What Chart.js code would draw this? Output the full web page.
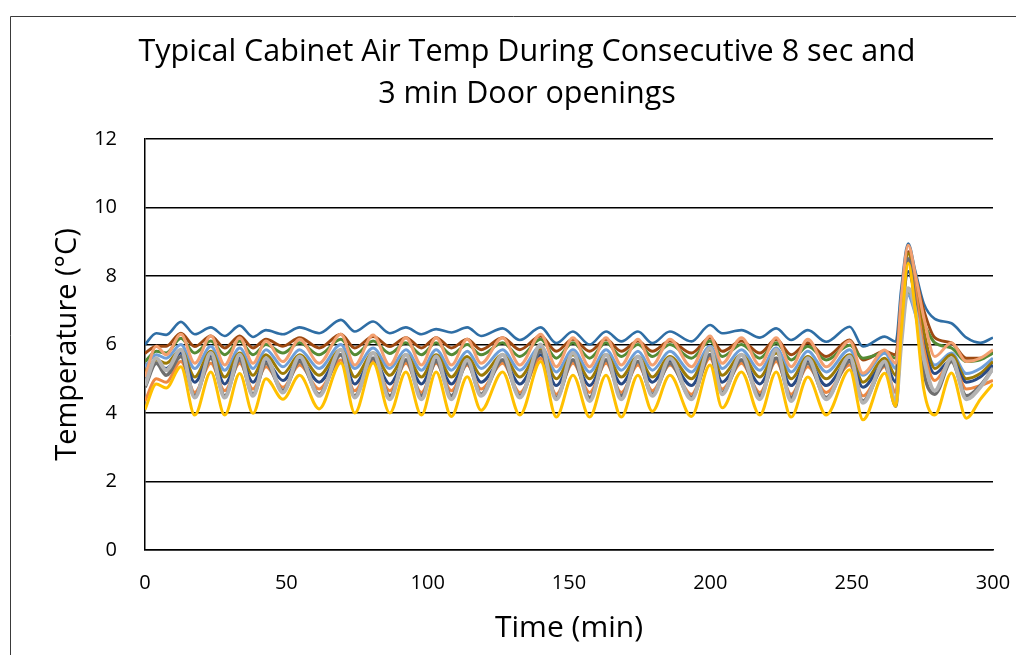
<!DOCTYPE html>
<html lang="en">
<head>
	<meta charset="UTF-8">
	<title>Typical Cabinet Air Temp</title>
	<script src="https://cdn.jsdelivr.net/npm/chart.js"></script>
	<style>
		html,body{margin:0;padding:0;background:#fff;}
		.box{width:1016px;height:655px;}
	</style>
</head>
<body>
	<div class="box">
		<canvas id="myChart" width="1016" height="655"></canvas>
	</div>
<script>
// time of each reading (min): troughs / peaks of the door cycles, then the 3 min opening
var times = [0,4,7.5,12.7,17.6,23.3,28.2,33.5,38.2,42.8,
	48.8,54.7,61.6,69.3,74.2,80.7,86.6,92.3,97.8,103,
	108.4,114,118.9,126.5,132.6,140,145.5,151.4,157.3,163.1,
	168.5,174.4,179.5,185.7,193.3,199.9,204.2,211,217.5,223.3,
	228.6,234.5,241,249.3,254,261.7,265.6,267.5,270,272.5,
	275.5,279.4,285.3,290.6,295.5,300];

// air temps (°C) per sensor
var blue = [6.0,6.33,6.28,6.66,6.3,6.5,6.25,6.55,6.22,6.42,
	6.3,6.5,6.33,6.72,6.38,6.67,6.33,6.5,6.3,6.45,
	6.35,6.5,6.25,6.47,6.13,6.5,6.04,6.38,6.0,6.38,
	6.09,6.38,6.04,6.38,6.09,6.57,6.33,6.42,6.2,6.47,
	6.13,6.42,6.08,6.52,5.94,6.23,6.08,7.6,8.95,8.15,
	7.2,6.75,6.62,6.2,6.05,6.2];
var brown = [5.74,5.95,5.95,6.33,5.94,6.25,5.9,6.25,5.9,6.15,
	5.95,6.2,5.9,6.3,5.9,6.23,5.94,6.2,5.9,6.2,
	5.9,6.15,5.85,6.2,5.85,6.25,5.8,6.15,5.8,6.15,
	5.8,6.1,5.8,6.1,5.75,6.2,5.8,6.1,5.75,6.15,
	5.7,6.05,5.65,6.13,5.55,5.8,5.7,7.2,8.71,8.0,
	7.0,6.2,6.05,5.6,5.6,5.8];
var green = [5.5,5.8,5.75,6.18,5.75,6.1,5.7,6.1,5.7,6.0,
	5.75,6.05,5.7,6.15,5.7,6.1,5.74,6.05,5.7,6.05,
	5.7,6.0,5.7,6.05,5.65,6.15,5.6,6.05,5.6,6.05,
	5.65,6.0,5.65,6.0,5.6,6.1,5.65,6.0,5.6,6.05,
	5.55,5.95,5.55,5.98,5.6,5.75,5.6,6.6,7.5,7.0,
	6.6,6.05,5.9,5.5,5.55,5.75];
var salmon = [5.05,5.95,5.7,6.3,5.45,6.25,5.4,6.2,5.45,6.1,
	5.5,6.15,5.45,6.3,5.4,6.28,5.4,6.2,5.4,6.2,
	5.4,6.15,5.45,6.2,5.4,6.3,5.35,6.2,5.35,6.2,
	5.4,6.15,5.4,6.15,5.35,6.25,5.45,6.2,5.4,6.2,
	5.35,6.15,5.35,6.1,5.16,5.84,5.45,7.3,8.9,8.05,
	6.8,5.65,6.05,5.5,5.6,5.85];
var lightBlue = [5.35,5.7,5.6,6.0,5.3,5.95,5.25,5.9,5.3,5.85,
	5.35,5.85,5.3,6.0,5.3,5.9,5.3,5.85,5.25,5.85,
	5.25,5.8,5.3,5.85,5.25,5.95,5.2,5.85,5.2,5.85,
	5.25,5.8,5.25,5.8,5.2,5.95,5.3,5.85,5.25,5.9,
	5.2,5.8,5.2,5.85,5.1,5.75,5.3,6.6,7.44,6.9,
	6.1,5.4,5.75,5.15,5.3,5.6];
var olive = [5.2,5.55,5.45,5.85,5.05,5.8,5.05,5.75,5.1,5.7,
	5.15,5.7,5.1,5.85,5.05,5.75,5.1,5.7,5.05,5.7,
	5.05,5.65,5.1,5.7,5.05,5.85,5.0,5.7,5.0,5.7,
	5.05,5.65,5.05,5.65,5.0,5.85,5.1,5.7,5.05,5.75,
	5.0,5.65,5.0,5.7,4.9,5.6,5.1,7.0,8.66,7.8,
	6.4,5.3,5.7,5.0,5.15,5.5];
var navy = [5.05,5.45,5.3,5.75,4.9,5.65,4.85,5.6,4.9,5.5,
	4.95,5.55,4.9,5.7,4.85,5.6,4.85,5.55,4.85,5.55,
	4.85,5.5,4.9,5.55,4.85,5.7,4.8,5.55,4.8,5.55,
	4.85,5.5,4.9,5.5,4.8,5.7,4.9,5.55,4.85,5.6,
	4.8,5.5,4.8,5.55,4.75,5.45,4.9,6.6,8.13,7.4,
	6.0,5.15,5.55,4.9,5.05,5.4];
var orange = [4.35,5.0,4.9,5.5,4.6,5.45,4.65,5.45,4.7,5.35,
	4.75,5.4,4.7,5.55,4.65,5.5,4.65,5.45,4.6,5.45,
	4.65,5.4,4.7,5.45,4.6,5.6,4.55,5.45,4.6,5.45,
	4.6,5.4,4.65,5.4,4.55,5.6,4.7,5.45,4.6,5.5,
	4.55,5.35,4.6,5.4,4.5,5.35,4.6,6.6,8.47,7.6,
	5.9,4.95,5.5,4.7,4.8,4.95];
var darkGray = [4.75,5.45,5.1,5.65,4.5,5.6,4.5,5.55,4.55,5.45,
	4.65,5.5,4.55,5.7,4.5,5.6,4.5,5.55,4.5,5.5,
	4.5,5.45,4.55,5.55,4.5,5.8,4.45,5.55,4.45,5.55,
	4.5,5.5,4.55,5.45,4.45,5.7,4.6,5.55,4.5,5.6,
	4.45,5.45,4.45,5.5,4.35,5.4,4.2,6.5,8.5,7.2,
	5.2,4.55,5.5,4.5,4.8,5.3];
var lightGray = [4.8,5.6,5.25,5.85,4.45,5.75,4.45,5.7,4.5,5.6,
	4.6,5.65,4.5,5.85,4.45,5.75,4.4,5.7,4.4,5.65,
	4.4,5.55,4.5,5.7,4.45,6.0,4.4,5.75,4.35,5.7,
	4.4,5.65,4.5,5.6,4.4,5.9,4.55,5.7,4.4,5.85,
	4.35,5.6,4.4,5.65,4.3,5.5,4.3,6.0,7.64,7.0,
	5.6,4.65,5.6,4.4,4.75,5.3];
var yellow = [4.1,4.85,4.73,5.35,3.94,5.2,3.94,5.15,3.99,5.0,
	4.4,5.1,4.12,5.46,4.0,5.46,4.0,5.2,3.94,5.2,
	3.9,5.06,4.08,5.2,3.94,5.5,3.88,5.1,3.88,5.1,
	3.88,5.1,4.05,5.1,3.9,5.4,4.15,5.2,3.94,5.2,
	3.88,5.05,3.94,5.26,3.8,5.16,4.2,6.3,8.37,7.0,
	4.7,3.94,5.17,3.85,4.4,4.85];

var yTicks = [0,2,4,6,8,10,12];
var xTicks = [0,50,100,150,200,250,300];

function pts(arr){
	return times.map(function(t,i){ return {x:t, y:arr[i]}; });
}
function line(name,arr,color,w){
	return {label:name, data:pts(arr), borderColor:color, backgroundColor:color,
		borderWidth:w, pointRadius:0, fill:false, cubicInterpolationMode:'monotone'};
}

// first one is drawn on top
var sets = [
	line('S11',yellow,'#FFC000',3),
	line('S10',lightGray,'#B3B3B3',4),
	line('S4',salmon,'#F3A070',3),
	line('S9',darkGray,'#6F6F6F',3.5),
	line('S8',orange,'#EE8842',3),
	line('S7',navy,'#2A4B85',3),
	line('S6',olive,'#9C7A06',3),
	line('S5',lightBlue,'#6E9FDA',3),
	line('S3',green,'#548B35',3),
	line('S2',brown,'#9E4A12',3),
	line('S1',blue,'#2F6EA5',2.6)
];

// outer frame of the picture
var frame = {
	id:'frame',
	beforeDraw:function(chart){
		var c = chart.ctx;
		c.save();
		c.fillStyle = '#fff';
		c.fillRect(0,0,chart.width,chart.height);
		c.strokeStyle = '#3a3a3a';
		c.lineWidth = 1;
		c.beginPath();
		c.moveTo(10.5,chart.height);
		c.lineTo(10.5,16.5);
		c.lineTo(chart.width,16.5);
		c.stroke();
		c.restore();
	}
};

var font = 'Open Sans';
var ctx = document.getElementById('myChart');
var myChart = new Chart(ctx,{
	type:'line',
	data:{datasets:sets},
	plugins:[frame],
	options:{
		responsive:false,
		animation:false,
		// left pad shifts the centred title to the right like the original
		layout:{padding:{left:38,right:0,top:0,bottom:0}},
		plugins:{
			legend:{display:false},
			tooltip:{enabled:false},
			title:{
				display:true,
				text:['Typical Cabinet Air Temp During Consecutive 8 sec and','3 min Door openings'],
				color:'#000',
				font:{family:font,size:30.5,weight:'normal',lineHeight:1.377},
				padding:{top:31,bottom:24}
			}
		},
		scales:{
			x:{
				type:'linear',
				min:0, max:300,
				afterBuildTicks:function(s){ s.ticks = xTicks.map(function(v){return {value:v};}); },
				afterFit:function(s){ s.height = 105; s.paddingRight = 23; },
				grid:{display:false, drawTicks:false},
				border:{display:true,color:'#000',width:1.5},
				ticks:{color:'#000',font:{family:font,size:20},padding:21,maxRotation:0},
				title:{display:true,text:'Time (min)',color:'#000',
					font:{family:font,size:30},padding:{top:0,bottom:9}}
			},
			y:{
				min:0, max:12,
				afterBuildTicks:function(s){ s.ticks = yTicks.map(function(v){return {value:v};}); },
				afterFit:function(s){ s.width = 107; },
				grid:{color:'#000',lineWidth:1.5,drawTicks:false},
				border:{display:true,color:'#000',width:1.5},
				ticks:{color:'#000',font:{family:font,size:20},padding:28},
				title:{display:true,text:'Temperature (°C)',color:'#000',
					font:{family:font,size:29},padding:{top:12,bottom:0}}
			}
		}
	}
});
</script>
</body>
</html>
